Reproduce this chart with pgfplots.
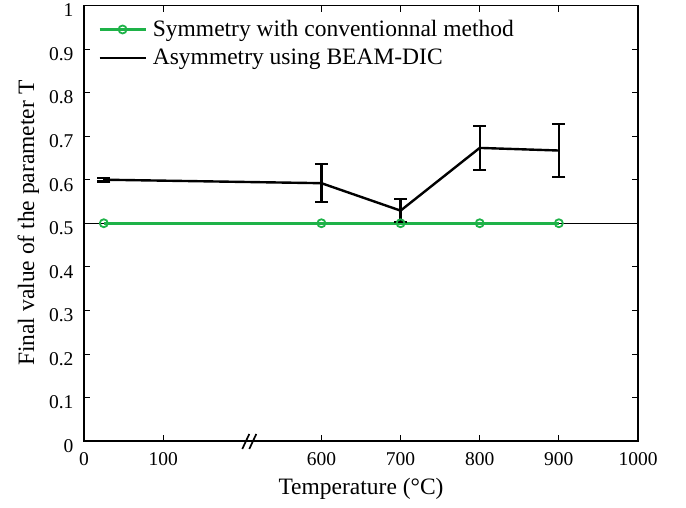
\documentclass[border=0pt]{standalone}
\usepackage{pgfplots}
\pgfplotsset{compat=1.18}
\usepackage{fontspec}
\setmainfont{Liberation Serif}
\definecolor{symgreen}{RGB}{30,178,72}

% x axis is broken: 0-100 kept, 600-1000 shifted by -300
\pgfplotstableread{
x    y      e
25   0.600  0.004
300  0.592  0.044
400  0.529  0.026
500  0.673  0.051
600  0.667  0.061
}\asym
\pgfplotstableread{
x    y
25   0.5
300  0.5
400  0.5
500  0.5
600  0.5
}\sym

\begin{document}
\begin{tikzpicture}
\useasboundingbox (-84pt,-66pt) rectangle (602pt,441pt);
\begin{axis}[
    name=main,
    at={(0,0)}, anchor=south west,
    scale only axis,
    width=554pt, height=435.5pt,
    xmin=0, xmax=700,
    ymin=0, ymax=1,
    xtick={0,100,300,400,500,600,700},
    xticklabels={\textrm{0},\textrm{100},\textrm{600},\textrm{700},\textrm{800},\textrm{900},\textrm{1000}},
    ytick={0,0.1,...,1},
    yticklabels={\textrm{0},\textrm{0.1},\textrm{0.2},\textrm{0.3},\textrm{0.4},\textrm{0.5},\textrm{0.6},\textrm{0.7},\textrm{0.8},\textrm{0.9},\textrm{1}},
    tick align=inside,
    major tick length=6pt,
    tick style={black, line width=0.8pt},
    axis line style={line width=1.6pt},
    tick label style={font=\fontsize{19.5}{22}\selectfont},
    xticklabel style={yshift=-8pt},
    yticklabel style={xshift=-7pt, yshift=-5pt},
    xlabel={Temperature (°C)},
    ylabel={Final value of the parameter T},
    label style={font=\fontsize{23.5}{27}\selectfont},
    xlabel style={yshift=-6pt},
    ylabel style={yshift=3pt},
    legend style={at={(0.02,0.975)}, anchor=north west, draw=none, fill=none,
        font=\fontsize{23.5}{27}\selectfont, row sep=7pt,
        nodes={inner xsep=6pt}},
    legend cell align=left,
    legend image code/.code={\draw[mark repeat=2,mark phase=2,#1]
        plot coordinates {(0pt,0pt) (23pt,0pt) (46pt,0pt)};},
    clip=false,
]
\addplot[black, line width=0.8pt, forget plot] coordinates {(0,0.5) (700,0.5)};
\addplot[symgreen, line width=2.6pt, mark=o,
    mark options={fill=white, line width=1.8pt, mark size=4pt}]
    table[x=x, y=y] {\sym};
\addlegendentry{Symmetry with conventionnal method}
\addplot[black, line width=2.4pt,
    error bars/.cd, y dir=both, y explicit,
    error bar style={line width=2.2pt},
    error mark options={rotate=90, mark size=6.5pt, line width=2.2pt}]
    table[x=x, y=y, y error=e] {\asym};
\addlegendentry{Asymmetry using BEAM-DIC}
% axis break mark
\draw[black, line width=1.7pt] ([yshift=-8pt]axis cs:200,0) -- ++(7pt,15pt);
\draw[black, line width=1.7pt] ([xshift=7pt,yshift=-8pt]axis cs:200,0) -- ++(7pt,15pt);
\end{axis}
\end{tikzpicture}
\end{document}
